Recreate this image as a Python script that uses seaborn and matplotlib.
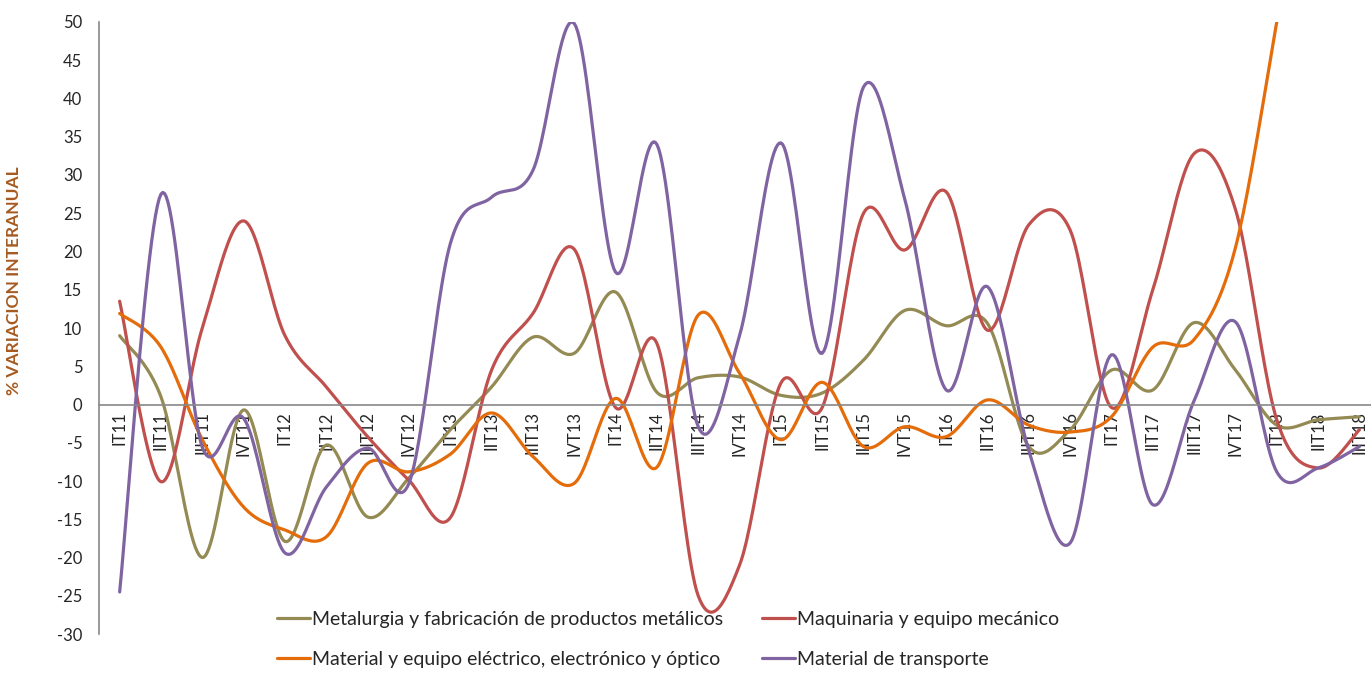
import numpy as np
import matplotlib
matplotlib.use("Agg")
import matplotlib.pyplot as plt
import seaborn as sns

# quarters IT11 .. IIIT18
quarters = ["IT11", "IIT11", "IIIT11", "IVT11",
            "IT12", "IIT12", "IIIT12", "IVT12",
            "IT13", "IIT13", "IIIT13", "IVT13",
            "IT14", "IIT14", "IIIT14", "IVT14",
            "IT15", "IIT15", "IIIT15", "IVT15",
            "IT16", "IIT16", "IIIT16", "IVT16",
            "IT17", "IIT17", "IIIT17", "IVT17",
            "IT18", "IIT18", "IIIT18"]

metalurgia = [9.0, 1.0, -20.0, -0.7, -17.9, -5.3, -14.7, -9.6,
              -3.3, 2.3, 8.8, 6.7, 14.7, 1.6, 3.5, 3.6,
              1.2, 1.5, 5.8, 12.3, 10.3, 10.6, -5.5, -3.3,
              4.5, 1.9, 10.7, 4.5, -2.7, -2.0, -1.6]

maquinaria = [13.5, -10.1, 10.0, 24.0, 9.0, 2.3, -4.2, -9.9,
              -14.8, 4.5, 11.9, 20.3, -0.4, 8.0, -25.0, -21.0,
              2.8, -0.4, 25.0, 20.2, 27.8, 9.7, 23.5, 22.8,
              -0.4, 15.0, 32.8, 25.5, -2.0, -8.3, -3.3]

electrico = [11.9, 7.5, -4.6, -13.4, -16.4, -17.3, -7.7, -8.8,
             -6.5, -1.1, -6.8, -10.3, 0.8, -8.2, 11.7, 4.1,
             -4.6, 2.9, -5.5, -2.9, -4.2, 0.6, -2.7, -3.6,
             -1.6, 7.5, 8.5, 20.5, 50.0, None, None]

transporte = [-24.5, 27.5, -5.6, -1.8, -19.4, -10.8, -5.7, -10.3,
              21.0, 27.1, 30.6, 49.8, 17.3, 34.0, -2.9, 9.0,
              34.2, 6.7, 41.5, 26.8, 1.9, 15.4, -6.0, -18.1,
              6.5, -13.1, 0.5, 10.8, -8.8, -8.3, -5.5]

series_names = ["Metalurgia y fabricación de productos metálicos",
                "Maquinaria y equipo mecánico",
                "Material y equipo eléctrico, electrónico y óptico",
                "Material de transporte"]
series_values = [metalurgia, maquinaria, electrico, transporte]
series_colors = ["#948A54", "#C0504D", "#E46C0A", "#8064A2"]


def smooth(values, steps=24):
    # Catmull-Rom curve through the points, like Excel's smoothed lines
    pts = [(i, v) for i, v in enumerate(values) if v is not None]
    xs, ys = [], []
    n = len(pts)
    for k in range(n - 1):
        p0 = pts[max(k - 1, 0)]
        p1 = pts[k]
        p2 = pts[k + 1]
        p3 = pts[min(k + 2, n - 1)]
        t = np.linspace(0, 1, steps, endpoint=(k == n - 2))
        h00 = 2 * t**3 - 3 * t**2 + 1
        h10 = t**3 - 2 * t**2 + t
        h01 = -2 * t**3 + 3 * t**2
        h11 = t**3 - t**2
        for b, out in ((0, xs), (1, ys)):
            m1 = (p2[b] - p0[b]) / 2.0
            m2 = (p3[b] - p1[b]) / 2.0
            out.extend(h00 * p1[b] + h10 * m1 + h01 * p2[b] + h11 * m2)
    return np.array(xs), np.array(ys)


sns.set_style("white")
plt.rcParams["font.family"] = ["Lato", "DejaVu Sans"]
plt.rcParams["axes.unicode_minus"] = False

fig = plt.figure(figsize=(13.71, 6.74), dpi=100)
ax = fig.add_axes([0.0722, 0.0593, 0.9278, 0.9081])

for name, vals, col in zip(series_names, series_values, series_colors):
    sx, sy = smooth(vals)
    sns.lineplot(x=sx, y=sy, ax=ax, color=col, linewidth=2.3,
                 sort=False, estimator=None, label=name, legend=False)

ax.set_ylim(-30, 50)
ax.set_xlim(-0.5, 30.28)
ax.set_yticks(range(-30, 51, 5))
ax.set_xticks(range(len(quarters)))
ax.set_xticklabels(quarters)
ax.tick_params(axis="x", length=0, pad=5, labelrotation=90, labelsize=12)
for lab in ax.get_xticklabels():
    lab.set_verticalalignment("top")

for side in ["top", "right"]:
    ax.spines[side].set_visible(False)
ax.spines["bottom"].set_position(("data", 0))
ax.spines["bottom"].set_color("#888888")
ax.spines["left"].set_color("#888888")
ax.spines["bottom"].set_linewidth(1.2)
ax.spines["left"].set_linewidth(1.2)
ax.tick_params(axis="y", length=0, pad=12, labelsize=12)

ax.set_ylabel("% VARIACION INTERANUAL", fontsize=12.5, fontweight="bold",
              color="#A65A20")
ax.yaxis.set_label_coords(-0.0606, 0.578)

handles, labels = ax.get_legend_handles_labels()
order = [0, 2, 1, 3]
fig.legend([handles[i] for i in order], [labels[i] for i in order],
           loc="center", bbox_to_anchor=(0.487, 0.051), ncol=2, frameon=False,
           fontsize=14, handlelength=1.7, handletextpad=0.1,
           columnspacing=2.0, labelspacing=1.2)

fig.savefig("out.png", dpi=100)
